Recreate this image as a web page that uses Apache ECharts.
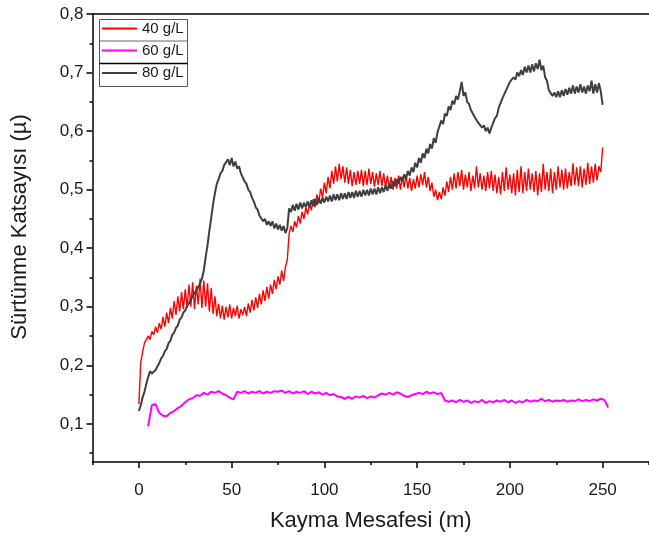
<!DOCTYPE html>
<html>
<head>
<meta charset="utf-8">
<script src="https://cdn.jsdelivr.net/npm/echarts@6/dist/echarts.min.js"></script>
<style>html,body{margin:0;padding:0;background:#fff}#c{width:649px;height:539px}</style>
</head>
<body>
<div id="c"></div>
<script>
const seriesNames = ['40 g/L', '60 g/L', '80 g/L'];
const xTickLabels = [0, 50, 100, 150, 200, 250];
const xMinorTicks = [-25, 25, 75, 125, 175, 225, 275];
const yTickLabels = [0.1, 0.2, 0.3, 0.4, 0.5, 0.6, 0.7, 0.8];
const yMinorTicks = [0.05, 0.15, 0.25, 0.35, 0.45, 0.55, 0.65, 0.75];

// sliding distance (m) of each reading: start and step per series
const x40Start = 0, x40Step = 1;
const x60Start = 5, x60Step = 2;
const x80Start = 0, x80Step = 1;

const y40 = [
/*0*/   0.134,0.205,0.222,0.238,0.236,0.250,0.244,0.258,0.252,0.266,
/*10*/  0.256,0.272,0.262,0.283,0.266,0.290,0.272,0.298,0.280,0.310,
/*20*/  0.286,0.318,0.292,0.325,0.296,0.330,0.298,0.338,0.300,0.342,
/*30*/  0.296,0.336,0.304,0.348,0.298,0.345,0.300,0.340,0.292,0.332,
/*40*/  0.288,0.318,0.284,0.305,0.280,0.302,0.278,0.300,0.282,0.304,
/*50*/  0.280,0.298,0.284,0.302,0.280,0.296,0.286,0.300,0.284,0.306,
/*60*/  0.290,0.312,0.294,0.316,0.298,0.322,0.304,0.328,0.310,0.334,
/*70*/  0.314,0.338,0.322,0.346,0.330,0.352,0.338,0.362,0.344,0.368,
/*80*/  0.380,0.425,0.438,0.428,0.446,0.436,0.455,0.442,0.462,0.450,
/*90*/  0.470,0.458,0.476,0.465,0.484,0.470,0.492,0.478,0.502,0.486,
/*100*/ 0.512,0.494,0.522,0.502,0.532,0.510,0.540,0.514,0.544,0.518,
/*110*/ 0.540,0.512,0.538,0.510,0.534,0.506,0.530,0.508,0.532,0.510,
/*120*/ 0.534,0.506,0.532,0.508,0.536,0.510,0.530,0.505,0.528,0.508,
/*130*/ 0.532,0.506,0.528,0.504,0.524,0.502,0.522,0.500,0.520,0.502,
/*140*/ 0.524,0.500,0.522,0.504,0.526,0.502,0.520,0.498,0.518,0.502,
/*150*/ 0.524,0.504,0.526,0.508,0.530,0.504,0.522,0.498,0.512,0.488,
/*160*/ 0.500,0.482,0.496,0.484,0.504,0.490,0.514,0.496,0.522,0.500,
/*170*/ 0.528,0.502,0.530,0.506,0.534,0.500,0.526,0.504,0.530,0.498,
/*180*/ 0.524,0.502,0.540,0.504,0.528,0.500,0.524,0.498,0.530,0.502,
/*190*/ 0.532,0.498,0.526,0.494,0.522,0.492,0.530,0.498,0.538,0.500,
/*200*/ 0.526,0.494,0.528,0.490,0.534,0.496,0.540,0.494,0.530,0.498,
/*210*/ 0.536,0.500,0.528,0.496,0.532,0.490,0.528,0.496,0.544,0.500,
/*220*/ 0.530,0.498,0.536,0.494,0.530,0.500,0.540,0.504,0.534,0.500,
/*230*/ 0.536,0.502,0.530,0.506,0.545,0.508,0.538,0.506,0.540,0.504,
/*240*/ 0.536,0.508,0.546,0.510,0.540,0.512,0.544,0.516,0.540,0.530,
/*250*/ 0.572
];

const y60 = [
/*5*/   0.096,0.132,0.134,0.119,0.114,0.113,0.119,0.122,0.127,0.131,
/*25*/  0.137,0.142,0.144,0.149,0.148,0.153,0.150,0.155,0.153,0.156,
/*45*/  0.152,0.149,0.145,0.142,0.155,0.153,0.156,0.152,0.155,0.153,
/*65*/  0.156,0.152,0.155,0.153,0.156,0.155,0.157,0.153,0.156,0.152,
/*85*/  0.155,0.153,0.156,0.151,0.155,0.152,0.154,0.150,0.153,0.149,
/*105*/ 0.151,0.147,0.146,0.143,0.146,0.143,0.147,0.145,0.148,0.144,
/*125*/ 0.147,0.145,0.149,0.152,0.150,0.153,0.150,0.154,0.152,0.148,
/*145*/ 0.146,0.149,0.151,0.153,0.151,0.155,0.152,0.154,0.151,0.153,
/*165*/ 0.140,0.138,0.140,0.137,0.141,0.138,0.140,0.136,0.139,0.137,
/*185*/ 0.141,0.136,0.139,0.137,0.140,0.138,0.141,0.137,0.140,0.136,
/*205*/ 0.139,0.137,0.141,0.138,0.140,0.139,0.143,0.139,0.141,0.138,
/*225*/ 0.140,0.139,0.141,0.138,0.140,0.139,0.142,0.139,0.141,0.139,
/*245*/ 0.142,0.140,0.143,0.141,0.128
];

const y80 = [
/*0*/   0.122,0.132,0.145,0.155,0.168,0.180,0.190,0.186,0.185,0.192,
/*10*/  0.198,0.204,0.212,0.216,0.224,0.228,0.238,0.242,0.252,0.256,
/*20*/  0.264,0.268,0.278,0.282,0.290,0.294,0.302,0.306,0.312,0.318,
/*30*/  0.324,0.328,0.334,0.340,0.348,0.362,0.385,0.405,0.430,0.452,
/*40*/  0.475,0.494,0.510,0.518,0.528,0.532,0.542,0.540,0.552,0.542,
/*50*/  0.554,0.540,0.548,0.536,0.540,0.528,0.526,0.514,0.510,0.500,
/*60*/  0.496,0.486,0.480,0.470,0.466,0.456,0.456,0.446,0.450,0.440,
/*70*/  0.446,0.438,0.446,0.434,0.442,0.432,0.440,0.430,0.438,0.426,
/*80*/  0.434,0.468,0.462,0.474,0.464,0.476,0.466,0.478,0.468,0.478,
/*90*/  0.470,0.480,0.470,0.482,0.472,0.484,0.474,0.486,0.476,0.486,
/*100*/ 0.478,0.488,0.480,0.490,0.480,0.492,0.482,0.492,0.482,0.494,
/*110*/ 0.484,0.494,0.484,0.496,0.486,0.496,0.486,0.498,0.488,0.498,
/*120*/ 0.488,0.500,0.490,0.500,0.490,0.502,0.492,0.502,0.492,0.504,
/*130*/ 0.494,0.504,0.496,0.508,0.498,0.510,0.502,0.514,0.506,0.518,
/*140*/ 0.510,0.522,0.514,0.526,0.518,0.532,0.524,0.538,0.530,0.546,
/*150*/ 0.538,0.554,0.546,0.562,0.554,0.570,0.562,0.578,0.570,0.588,
/*160*/ 0.580,0.598,0.596,0.618,0.612,0.630,0.626,0.642,0.636,0.652,
/*170*/ 0.646,0.660,0.654,0.668,0.684,0.660,0.666,0.650,0.646,0.636,
/*180*/ 0.634,0.624,0.624,0.614,0.616,0.606,0.610,0.600,0.606,0.596,
/*190*/ 0.606,0.608,0.622,0.626,0.640,0.642,0.656,0.658,0.670,0.672,
/*200*/ 0.684,0.682,0.692,0.688,0.700,0.694,0.704,0.696,0.710,0.700,
/*210*/ 0.712,0.700,0.714,0.702,0.716,0.706,0.722,0.704,0.712,0.692,
/*220*/ 0.686,0.670,0.672,0.660,0.666,0.658,0.668,0.658,0.670,0.660,
/*230*/ 0.672,0.662,0.674,0.664,0.678,0.664,0.676,0.666,0.680,0.666,
/*240*/ 0.676,0.664,0.678,0.668,0.686,0.664,0.680,0.666,0.682,0.668,
/*250*/ 0.645
];

const toPairs = (ys, start, step) => ys.map((v, i) => [start + i * step, v]);
const data40 = toPairs(y40, x40Start, x40Step);
const data60 = toPairs(y60, x60Start, x60Step);
const data80 = toPairs(y80, x80Start, x80Step);

const colors = ['#ff0000', '#ff00ff', '#3f3f3f'];
const FONT = '"Liberation Sans", Arial, sans-serif';
const txt = '#1a1a1a';

const chart = echarts.init(document.getElementById('c'), null, {renderer: 'canvas'});
const axisLineStyle = {color: '#000', width: 1.5};

const option = {
  animation: false,
  backgroundColor: '#fff',
  grid: {left: 92.5, top: 14, width: 558, bottom: 77, containLabel: false},
  xAxis: [
    {
      type: 'value', min: -25, max: 275, position: 'bottom',
      axisLine: {show: true, onZero: false, lineStyle: axisLineStyle},
      axisTick: {show: true, inside: false, length: 6, lineStyle: {color: '#000', width: 1.5}, customValues: xTickLabels},
      axisLabel: {show: true, customValues: xTickLabels, fontSize: 17, margin: 20, color: txt, fontFamily: FONT},
      splitLine: {show: false},
      name: 'Kayma Mesafesi (m)', nameLocation: 'middle', nameGap: 48,
      nameTextStyle: {fontSize: 22, color: txt, fontFamily: FONT}
    },
    {
      type: 'value', min: -25, max: 275, position: 'bottom',
      axisLine: {show: false, onZero: false},
      axisTick: {show: true, inside: false, length: 3, lineStyle: {color: '#000', width: 1.5}, customValues: xMinorTicks},
      axisLabel: {show: false},
      splitLine: {show: false}
    },
    {
      type: 'value', min: -25, max: 275, position: 'top',
      axisLine: {show: true, onZero: false, lineStyle: axisLineStyle},
      axisTick: {show: false}, axisLabel: {show: false}, splitLine: {show: false}
    }
  ],
  yAxis: [
    {
      type: 'value', min: 0.035, max: 0.8, position: 'left',
      axisLine: {show: true, onZero: false, lineStyle: axisLineStyle},
      axisTick: {show: true, inside: false, length: 6, lineStyle: {color: '#000', width: 1.5}, customValues: yTickLabels},
      axisLabel: {show: true, customValues: yTickLabels, fontSize: 17, margin: 9, color: txt, fontFamily: FONT,
        formatter: v => v.toFixed(1).replace('.', ',')},
      splitLine: {show: false},
      name: 'Sürtünme Katsayısı (µ)', nameLocation: 'middle', nameGap: 62,
      nameTextStyle: {fontSize: 22, color: txt, fontFamily: FONT, padding: [0, 0, 0, 22]}
    },
    {
      type: 'value', min: 0.035, max: 0.8, position: 'left',
      axisLine: {show: false, onZero: false},
      axisTick: {show: true, inside: false, length: 3, lineStyle: {color: '#000', width: 1.5}, customValues: yMinorTicks},
      axisLabel: {show: false}, splitLine: {show: false}
    }
  ],
  legend: seriesNames.map((n, i) => ({
    data: [n], left: 102, top: [21, 43, 65.5][i], orient: 'vertical',
    icon: 'rect', itemWidth: 35, itemHeight: 2, itemGap: 0, padding: 0,
    textStyle: {fontSize: 15, color: txt, fontFamily: FONT}
  })),
  graphic: [
    {type: 'rect', shape: {x: 99.5, y: 19.5, width: 88, height: 67}, style: {fill: 'none', stroke: '#555', lineWidth: 1}, z: 100},
    {type: 'line', shape: {x1: 99.5, y1: 41, x2: 187.5, y2: 41}, style: {stroke: '#666', lineWidth: 1}, z: 100},
    {type: 'line', shape: {x1: 99.5, y1: 63.5, x2: 187.5, y2: 63.5}, style: {stroke: '#000', lineWidth: 1.5}, z: 100}
  ],
  series: [
    {name: seriesNames[0], type: 'line', data: data40, xAxisIndex: 0, yAxisIndex: 0, symbol: 'none', showSymbol: false,
      lineStyle: {color: colors[0], width: 1.4}, itemStyle: {color: colors[0]}},
    {name: seriesNames[1], type: 'line', data: data60, xAxisIndex: 0, yAxisIndex: 0, symbol: 'none', showSymbol: false,
      lineStyle: {color: colors[1], width: 2}, itemStyle: {color: colors[1]}},
    {name: seriesNames[2], type: 'line', data: data80, xAxisIndex: 0, yAxisIndex: 0, symbol: 'none', showSymbol: false,
      lineStyle: {color: colors[2], width: 2}, itemStyle: {color: colors[2]}}
  ]
};
chart.setOption(option);
</script>
</body>
</html>
